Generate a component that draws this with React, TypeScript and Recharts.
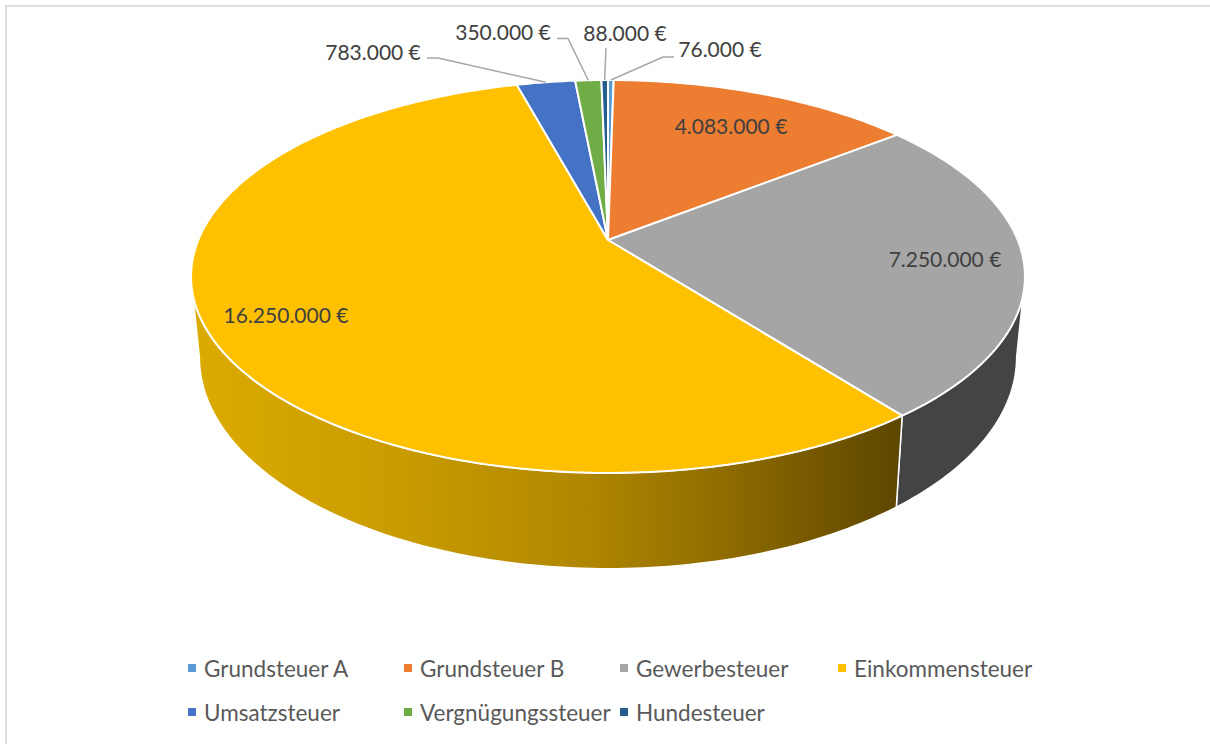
import { Legend, Pie, PieChart } from 'recharts';

const categories = [
  'Grundsteuer A',
  'Grundsteuer B',
  'Gewerbesteuer',
  'Einkommensteuer',
  'Umsatzsteuer',
  'Vergnügungssteuer',
  'Hundesteuer',
];
const revenues = [76000, 4083000, 7250000, 16250000, 783000, 350000, 88000];
const colors = ['#5B9BD5', '#ED7D31', '#A5A5A5', '#FFC000', '#4472C4', '#70AD47', '#255E91'];

const tableData = categories.map((name, i) => ({ name, value: revenues[i], fill: colors[i] }));

// where the value labels sit, and the elbow of the leader line if there is one
const labelSpots = [
  { x: 720, y: 48, elbow: [[674, 57], [663, 57]] },
  { x: 731, y: 125 },
  { x: 945, y: 258 },
  { x: 286, y: 314 },
  { x: 373, y: 51, elbow: [[427, 58], [438, 58]] },
  { x: 503, y: 31, elbow: [[557, 38.5], [568, 38.5]] },
  { x: 625, y: 32, elbow: [[606, 48]] },
];

// perspective of the tilted disc
const TILT = -0.1857;
const SQUASH = 0.463;
const WALL_SCALE = 0.98;
const WALL_DROP = 78;

const FONT = 'Lato, sans-serif';

const euro = (v: number) => `${String(v).replace(/\B(?=(\d{3})+$)/g, '.')} €`;

const project = (cx: number, cy: number, r: number, deg: number) => {
  const t = (deg * Math.PI) / 180;
  const u = Math.sin(t);
  const v = -Math.cos(t);
  const w = 1 + TILT * v;
  return { x: cx + (r * u) / w, y: cy + (r * SQUASH * v) / w, w };
};

const arc = (cx: number, cy: number, r: number, from: number, to: number) => {
  const pts = [];
  const n = Math.max(1, Math.ceil(to - from));
  for (let i = 0; i <= n; i++) pts.push(project(cx, cy, r, from + ((to - from) * i) / n));
  return pts;
};

const TopSlice = (p: any) => {
  const pts = arc(p.cx, p.cy, p.outerRadius, 90 - p.startAngle, 90 - p.endAngle);
  const d = `M${p.cx},${p.cy} ` + pts.map((q) => `L${q.x},${q.y}`).join(' ') + ' Z';
  return <path d={d} fill={p.fill} stroke='#fff' strokeWidth={2} strokeLinejoin='round' />;
};

const WALL_FROM = 100.7;
const WALL_TO = 259.3;

const WallSlice = (p: any) => {
  const from = Math.max(90 - p.startAngle, WALL_FROM);
  const to = Math.min(90 - p.endAngle, WALL_TO);
  if (to <= from) return null;
  const upper = arc(p.cx, p.cy, p.outerRadius, from, to);
  const lower = upper
    .map((q) => ({ x: p.cx + (q.x - p.cx) * WALL_SCALE, y: q.y + WALL_DROP / q.w }))
    .reverse();
  const d = [...upper, ...lower].map((q, i) => `${i ? 'L' : 'M'}${q.x},${q.y}`).join(' ') + ' Z';
  const fill = p.name === 'Einkommensteuer' ? 'url(#wallYellow)' : p.name === 'Gewerbesteuer' ? '#444446' : p.fill;
  return <path d={d} fill={fill} stroke='#fff' strokeWidth={1.5} />;
};

const ValueLabel = (p: any) => {
  const spot = labelSpots[p.index];
  const tip = project(p.cx, p.cy, p.outerRadius, 90 - p.midAngle);
  return (
    <g>
      {spot.elbow && (
        <polyline
          points={[...spot.elbow, [tip.x, tip.y]].map((q) => q.join(',')).join(' ')}
          fill='none'
          stroke='#a6a6a6'
          strokeWidth={1.5}
        />
      )}
      <text
        x={spot.x}
        y={spot.y}
        textAnchor='middle'
        dominantBaseline='central'
        fill='#404040'
        fontFamily={FONT}
        fontSize={21}
      >
        {euro(revenues[p.index])}
      </text>
    </g>
  );
};

const legendColumns = [188, 404, 620, 838];

// the payload holds both pies and is sorted by value, so go by the category order
const ChartLegend = ({ payload }: any) => (
  <div style={{ position: 'relative', width: 1210, height: 100 }}>
    {categories.map((name, i) => (
      <div
        key={name}
        style={{
          position: 'absolute',
          left: legendColumns[i % 4],
          top: i < 4 ? 0 : 44,
          display: 'flex',
          alignItems: 'center',
          height: 30,
          color: '#595959',
          fontFamily: FONT,
          fontSize: 22.5,
          whiteSpace: 'nowrap',
        }}
      >
        <span
          style={{
            width: 8,
            height: 8,
            marginRight: 8,
            background: (payload ?? []).find((e: any) => e.value === name)?.color,
          }}
        />
        {name}
      </div>
    ))}
  </div>
);

export default function App() {
  return (
    <div style={{ position: 'absolute', left: 0, top: 0, width: 1210, height: 744, background: '#fff', overflow: 'hidden' }}>
      <div style={{ position: 'absolute', left: 5, top: 5, width: 1205, height: 744, borderTop: '2px solid #dedede', borderLeft: '2px solid #dedede' }} />
      <PieChart width={1210} height={744} margin={{ top: 0, right: 0, bottom: 0, left: 0 }} style={{ position: 'absolute', left: 0, top: 0 }}>
        <defs>
          <linearGradient id='wallYellow' gradientUnits='userSpaceOnUse' x1={192} y1={0} x2={903} y2={0}>
            <stop offset='0%' stopColor='#dcab00' />
            <stop offset='30%' stopColor='#c89b00' />
            <stop offset='55%' stopColor='#b08700' />
            <stop offset='75%' stopColor='#8f6c00' />
            <stop offset='100%' stopColor='#5c4500' />
          </linearGradient>
        </defs>
        <Pie
          data={tableData}
          dataKey='value'
          nameKey='name'
          cx={608}
          cy={240}
          outerRadius={409.7}
          startAngle={90}
          endAngle={-270}
          legendType='none'
          shape={WallSlice}
          isAnimationActive={false}
        />
        <Pie
          data={tableData}
          dataKey='value'
          nameKey='name'
          cx={608}
          cy={240}
          outerRadius={409.7}
          startAngle={90}
          endAngle={-270}
          shape={TopSlice}
          label={ValueLabel}
          labelLine={false}
          isAnimationActive={false}
        />
        <Legend content={ChartLegend} wrapperStyle={{ position: 'absolute', left: 0, top: 653, width: 1210 }} />
      </PieChart>
    </div>
  );
}
